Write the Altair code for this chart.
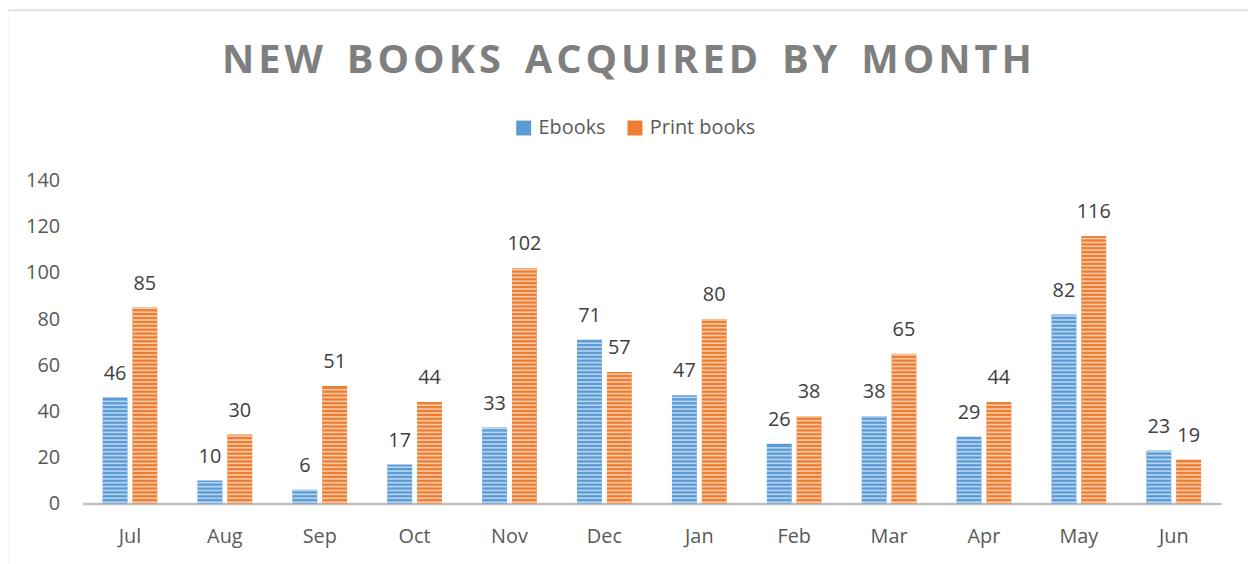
import altair as alt
import pandas as pd

months = ["Jul", "Aug", "Sep", "Oct", "Nov", "Dec", "Jan", "Feb", "Mar", "Apr", "May", "Jun"]
ebooks = [46, 10, 6, 17, 33, 71, 47, 26, 38, 29, 82, 23]
print_books = [85, 30, 51, 44, 102, 57, 80, 38, 65, 44, 116, 19]
series_names = ["Ebooks", "Print books"]
dark_colors = ["#5b9bd5", "#ed7d31"]
light_colors = ["#b9d4f0", "#f9caa9"]
y_ticks = [0, 20, 40, 60, 80, 100, 120, 140]
title_words = ["NEW", "BOOKS", "ACQUIRED", "BY", "MONTH"]

rows = []
for m, e, p in zip(months, ebooks, print_books):
    rows.append({"month": m, "series": "Ebooks", "value": e})
    rows.append({"month": m, "series": "Print books", "value": p})
df = pd.DataFrame(rows)

FONT = "Open Sans"
HS = "\u200a"
WS = "\u2002" + HS
title_text = WS.join(HS.join(list(w)) for w in title_words)

x_enc = alt.X("month:N", sort=months,
              scale=alt.Scale(paddingInner=0.424, paddingOuter=0.212),
              axis=alt.Axis(title=None, labelAngle=0, ticks=False, domain=True,
                            domainColor="#bfbfbf", domainWidth=2.5,
                            labelFontSize=20, labelColor="#595959", labelFont=FONT,
                            labelPadding=23))
xoff = alt.XOffset("series:N", sort=series_names,
                   scale=alt.Scale(paddingInner=1/6, paddingOuter=0))
y_scale = alt.Scale(domain=[0, 140], nice=False)

base = alt.Chart(df)

bars = base.mark_bar().encode(
    x=x_enc,
    xOffset=xoff,
    y=alt.Y("value:Q", scale=y_scale,
            axis=alt.Axis(title=None, values=y_ticks, grid=False, domain=False, ticks=False,
                          labelFontSize=20, labelColor="#595959", labelFont=FONT,
                          labelPadding=23)),
    color=alt.Color("series:N", sort=series_names,
                    scale=alt.Scale(domain=series_names, range=dark_colors),
                    legend=alt.Legend(orient="none", legendX=434, legendY=-63,
                                      direction="horizontal", title=None,
                                      symbolType="square", symbolSize=225,
                                      symbolStrokeWidth=0, symbolOpacity=1,
                                      labelFontSize=20, labelColor="#595959",
                                      labelFont=FONT, columnPadding=19,
                                      labelOffset=5, padding=0)),
)

stripes = base.transform_calculate(
    s="sequence(0.3, datum.value - 0.6, 1.68)"
).transform_flatten(["s"]).transform_calculate(
    s2="datum.s + 0.7"
).mark_bar().encode(
    x=alt.X("month:N", sort=months),
    xOffset=alt.XOffset("series:N", sort=series_names),
    y=alt.Y("s:Q", scale=y_scale),
    y2="s2:Q",
    fill=alt.Fill("series:N", scale=alt.Scale(domain=series_names, range=light_colors),
                  legend=None),
)

labels = base.mark_text(fontSize=20, font=FONT, color="#404040",
                        baseline="alphabetic", dy=-18).encode(
    x=alt.X("month:N", sort=months),
    xOffset=alt.XOffset("series:N", sort=series_names),
    y=alt.Y("value:Q", scale=y_scale),
    text=alt.Text("value:Q"),
)

one = pd.DataFrame({"a": [0]})
left_border = alt.Chart(one).mark_rule(color="#d9d9d9", strokeWidth=1.5).encode(
    x=alt.value(-75.5), y=alt.value(-172), y2=alt.value(400))
top_border = alt.Chart(one).mark_rule(color="#d9d9d9", strokeWidth=1.5).encode(
    x=alt.value(-76), x2=alt.value(1300), y=alt.value(-171.5))
title_mark = alt.Chart(one).mark_text(
    fontSize=40, font=FONT, fontWeight="bold", color="#7f7f7f",
    align="center", baseline="alphabetic", text=title_text
).encode(x=alt.value(548), y=alt.value(-108))

chart = alt.layer(bars, stripes, labels, left_border, top_border, title_mark).properties(
    width=1146, height=325,
    padding={"left": 75, "top": 172, "right": 27, "bottom": 59},
    autosize=alt.AutoSizeParams(type="none"),
).configure(background="white").configure_view(stroke="transparent", strokeWidth=0)

chart.save("out.html", embed_options={"renderer": "svg", "actions": False})
